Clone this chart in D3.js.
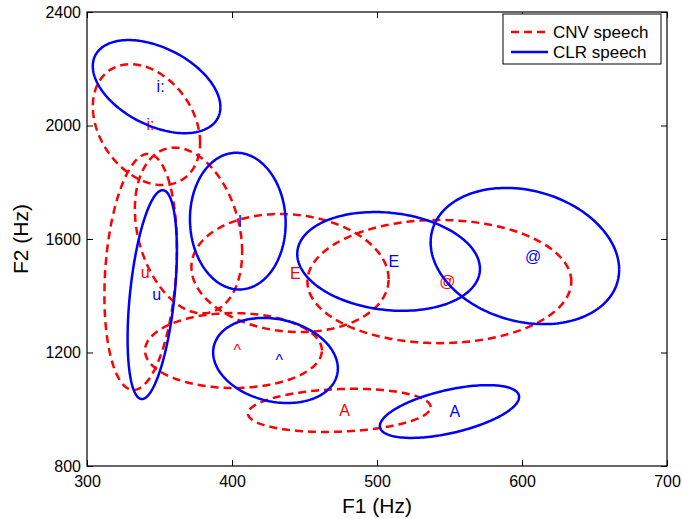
<!DOCTYPE html>
<html>
<head>
<meta charset="utf-8">
<script src="https://cdn.jsdelivr.net/npm/d3@7"></script>
<style>
  html, body { margin: 0; padding: 0; background: #fff; }
  svg { display: block; font-family: "Liberation Sans", Arial, Helvetica, sans-serif; }
</style>
</head>
<body>
<svg id="chart" width="682" height="519"></svg>
<script>
// Vowel formant ellipses: centre (F1, F2), half-extent along F1 and F2, and F1–F2 correlation.
const vowels = ["i:", "I", "E", "@", "^", "A", "u"];

const cnvF1 = [341, 370, 440, 543, 401, 474, 337];
const cnvF2 = [2003, 1630, 1480, 1450, 1207, 996, 1484];
const cnvS1 = [37, 37, 68, 91, 61, 63, 25];
const cnvS2 = [213, 292, 208, 217, 132, 76, 416];
const cnvR  = [-0.3, -0.26, -0.1, 0, 0, 0.15, 0.2];
const cnvShowLabel = [true, false, true, true, true, true, true];

const clrF1 = [348, 404, 508, 602, 430, 550, 345];
const clrF2 = [2137, 1663, 1521, 1540, 1172, 992, 1404];
const clrS1 = [44, 33, 63, 65, 43, 48, 17];
const clrS2 = [164, 241, 174, 240, 150, 93, 368];
const clrR  = [-0.44, -0.03, -0.15, -0.2, -0.19, 0.55, 0.42];

const xTicks = [300, 400, 500, 600, 700];
const yTicks = [800, 1200, 1600, 2000, 2400];

const margin = { left: 87, right: 15, top: 12, bottom: 53 };
const W = 682, H = 519;

const svg = d3.select("#chart");
const x = d3.scaleLinear().domain([300, 700]).range([margin.left, W - margin.right]);
const y = d3.scaleLinear().domain([800, 2400]).range([H - margin.bottom, margin.top]);

const plot = svg.append("g");

// Ellipse outline traced from centre, spreads and correlation
function ellipsePoints(f1, f2, s1, s2, r) {
  const k = Math.sqrt(1 - r * r);
  return d3.range(0, 361, 2).map(a => {
    const t = a * Math.PI / 180;
    return [f1 + s1 * Math.cos(t), f2 + s2 * (r * Math.cos(t) + k * Math.sin(t))];
  });
}
const line = d3.line().x(d => x(d[0])).y(d => y(d[1]));

const clip = svg.append("defs").append("clipPath").attr("id", "plotclip")
  .append("rect").attr("x", x(300)).attr("y", y(2400))
  .attr("width", x(700) - x(300)).attr("height", y(800) - y(2400));

const marks = plot.append("g").attr("clip-path", "url(#plotclip)");

function drawSet(F1, F2, S1, S2, R, color, dashed, showLabel) {
  vowels.forEach((v, i) => {
    marks.append("path")
      .attr("d", line(ellipsePoints(F1[i], F2[i], S1[i], S2[i], R[i])))
      .attr("fill", "none")
      .attr("stroke", color)
      .attr("stroke-width", 2.5)
      .attr("stroke-dasharray", dashed ? "8,5" : null);
  });
  vowels.forEach((v, i) => {
    if (showLabel && !showLabel[i]) return;
    marks.append("text")
      .attr("x", x(F1[i]))
      .attr("y", y(F2[i]))
      .attr("dy", "0.35em")
      .attr("fill", color)
      .attr("font-size", 16)
      .text(v);
  });
}

drawSet(cnvF1, cnvF2, cnvS1, cnvS2, cnvR, "#ff0000", true, cnvShowLabel);
drawSet(clrF1, clrF2, clrS1, clrS2, clrR, "#0000ff", false, null);

// Axes box with inward ticks on all four sides
const axG = svg.append("g");
axG.append("rect")
  .attr("x", x(300)).attr("y", y(2400))
  .attr("width", x(700) - x(300)).attr("height", y(800) - y(2400))
  .attr("fill", "none").attr("stroke", "#000").attr("stroke-width", 1.2);

const tl = 6;
axG.append("g").attr("transform", `translate(0,${y(800)})`)
  .call(d3.axisBottom(x).tickValues(xTicks).tickSizeInner(-tl).tickSizeOuter(0).tickPadding(10).tickFormat(d3.format("d")))
  .call(g => g.select(".domain").remove());
axG.append("g").attr("transform", `translate(0,${y(2400)})`)
  .call(d3.axisTop(x).tickValues(xTicks).tickSizeInner(-tl).tickSizeOuter(0).tickFormat(""))
  .call(g => g.select(".domain").remove());
axG.append("g").attr("transform", `translate(${x(300)},0)`)
  .call(d3.axisLeft(y).tickValues(yTicks).tickSizeInner(-tl).tickSizeOuter(0).tickPadding(6).tickFormat(d3.format("d")))
  .call(g => g.select(".domain").remove());
axG.append("g").attr("transform", `translate(${x(700)},0)`)
  .call(d3.axisRight(y).tickValues(yTicks).tickSizeInner(-tl).tickSizeOuter(0).tickFormat(""))
  .call(g => g.select(".domain").remove());

axG.selectAll(".tick line").attr("stroke", "#000").attr("stroke-width", 1);
axG.selectAll(".tick text")
  .attr("font-family", "'Liberation Sans', Arial, sans-serif")
  .attr("font-size", 16).attr("fill", "#000");

// Axis titles
svg.append("text")
  .attr("x", (x(300) + x(700)) / 2).attr("y", H - 6)
  .attr("text-anchor", "middle").attr("font-size", 21).text("F1 (Hz)");
svg.append("text")
  .attr("transform", `translate(28,${(y(800) + y(2400)) / 2}) rotate(-90)`)
  .attr("text-anchor", "middle").attr("font-size", 21).text("F2 (Hz)");

// Legend
const legend = svg.append("g").attr("transform", "translate(503,14)");
legend.append("rect").attr("width", 158).attr("height", 50)
  .attr("fill", "#fff").attr("stroke", "#000").attr("stroke-width", 1);
const legendItems = [
  { name: "CNV speech", color: "#ff0000", dashed: true },
  { name: "CLR speech", color: "#0000ff", dashed: false }
];
legendItems.forEach((d, i) => {
  const yy = 18 + i * 20;
  legend.append("line").attr("x1", 8).attr("x2", 45).attr("y1", yy).attr("y2", yy)
    .attr("stroke", d.color).attr("stroke-width", 2.5)
    .attr("stroke-dasharray", d.dashed ? "8,5" : null);
  legend.append("text").attr("x", 50).attr("y", yy).attr("dy", "0.35em")
    .attr("font-size", 17).attr("fill", "#000").text(d.name);
});
</script>
</body>
</html>
